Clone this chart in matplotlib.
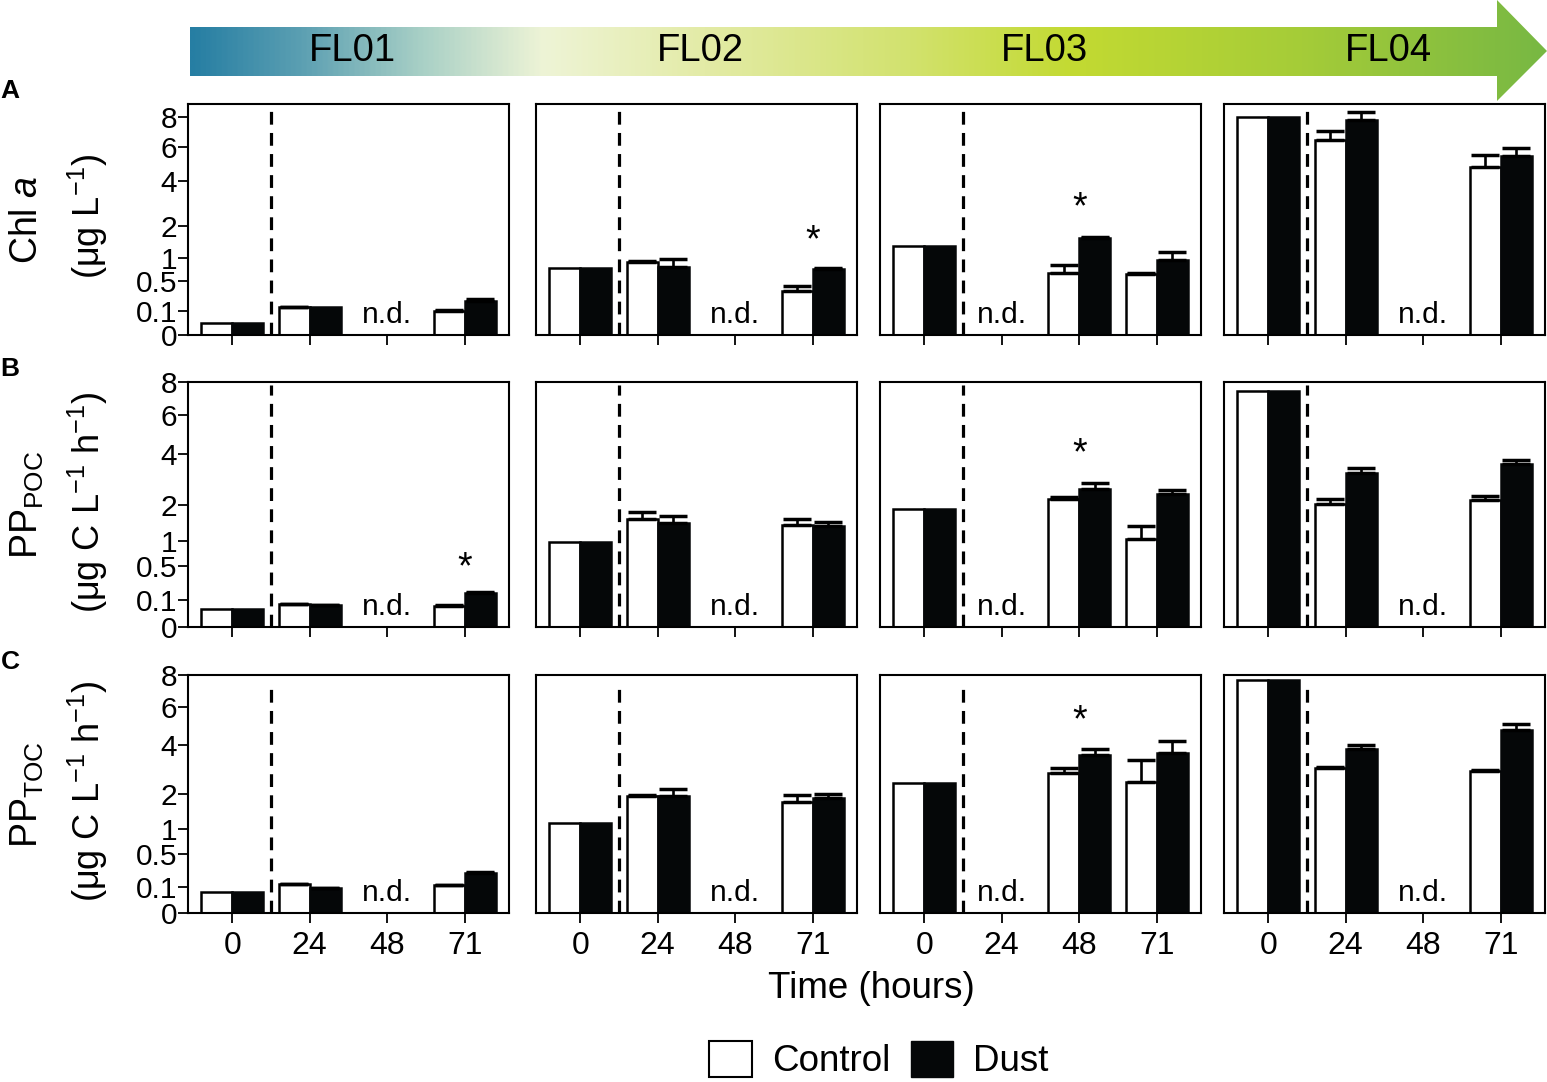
import numpy as np
import matplotlib
matplotlib.use('Agg')
import matplotlib.pyplot as plt
from matplotlib.patches import Polygon, Patch
from matplotlib.colors import LinearSegmentedColormap
import matplotlib.transforms as mtransforms

plt.rcParams['font.family'] = ['Liberation Sans', 'DejaVu Sans']
plt.rcParams['mathtext.fontset'] = 'custom'
plt.rcParams['mathtext.rm'] = 'Liberation Sans'
plt.rcParams['mathtext.it'] = 'Liberation Sans:italic'
plt.rcParams['mathtext.bf'] = 'Liberation Sans:bold'

nan = np.nan

# ---------------- data ----------------
times = ['0', '24', '48', '71']
flights = ['FL01', 'FL02', 'FL03', 'FL04']
yticks = [0, 0.1, 0.5, 1, 2, 4, 6, 8]
ytick_labels = ['0', '0.1', '0.5', '1', '2', '4', '6', '8']

# Chl a (ug L-1)
chl_ctrl = [[0.023, 0.13, nan, 0.097], [0.77, 0.89, nan, 0.33],
            [1.35, nan, 0.66, 0.63], [8.0, 6.43, nan, 4.75]]
chl_ctrl_err = [[0, 0.004, nan, 0.006], [0, 0.03, nan, 0.08],
                [0, nan, 0.16, 0.02], [0, 0.63, nan, 0.71]]
chl_dust = [[0.023, 0.13, nan, 0.19], [0.77, 0.775, nan, 0.74],
            [1.35, nan, 1.6, 0.95], [8.0, 7.82, nan, 5.44]]
chl_dust_err = [[0, 0, nan, 0.03], [0, 0.21, nan, 0.02],
                [0, nan, 0.02, 0.22], [0, 0.59, nan, 0.49]]

# PP POC (ug C L-1 h-1)
poc_ctrl = [[0.044, 0.07, nan, 0.062], [0.96, 1.56, nan, 1.39],
            [1.86, nan, 2.21, 1.03], [7.43, 2.03, nan, 2.16]]
poc_ctrl_err = [[0, 0.003, nan, 0.002], [0, 0.21, nan, 0.18],
                [0, nan, 0.04, 0.34], [0, 0.15, nan, 0.15]]
poc_dust = [[0.044, 0.066, nan, 0.159], [0.96, 1.46, nan, 1.37],
            [1.86, nan, 2.56, 2.36], [7.43, 3.19, nan, 3.57]]
poc_dust_err = [[0, 0.002, nan, 0.004], [0, 0.19, nan, 0.12],
                [0, nan, 0.23, 0.15], [0, 0.19, nan, 0.14]]

# PP TOC (ug C L-1 h-1)
toc_ctrl = [[0.062, 0.118, nan, 0.113], [1.14, 1.95, nan, 1.75],
            [2.38, nan, 2.76, 2.42], [7.66, 2.98, nan, 2.86]]
toc_ctrl_err = [[0, 0.004, nan, 0.002], [0, 0.03, nan, 0.21],
                [0, nan, 0.2, 0.87], [0, 0.05, nan, 0.04]]
toc_dust = [[0.062, 0.09, nan, 0.232], [1.14, 1.94, nan, 1.88],
            [2.38, nan, 3.53, 3.63], [7.66, 3.78, nan, 4.73]]
toc_dust_err = [[0, 0.002, nan, 0.004], [0, 0.22, nan, 0.13],
                [0, nan, 0.28, 0.56], [0, 0.21, nan, 0.31]]

# index of the time point that was not determined, per flight
nd_index = [2, 2, 1, 2]
# significance asterisks: (row, flight, time index, value at asterisk centre)
stars = [(0, 1, 3, 1.88), (0, 2, 2, 3.23), (1, 0, 3, 0.66),
         (1, 2, 2, 4.57), (2, 2, 2, 5.82)]

row_labels = ['Chl $\\mathit{a}$', 'PP$_{\\mathrm{POC}}$', 'PP$_{\\mathrm{TOC}}$']
row_units = ['(μg L$^{-1}$)', '(μg C L$^{-1}$ h$^{-1}$)', '(μg C L$^{-1}$ h$^{-1}$)']
panel_letters = ['A', 'B', 'C']

rows_ctrl = [chl_ctrl, poc_ctrl, toc_ctrl]
rows_ctrl_err = [chl_ctrl_err, poc_ctrl_err, toc_ctrl_err]
rows_dust = [chl_dust, poc_dust, toc_dust]
rows_dust_err = [chl_dust_err, poc_dust_err, toc_dust_err]

# ---------------- layout ----------------
W, H = 1547, 1082
fig = plt.figure(figsize=(W / 100, H / 100), dpi=100)
col_left = [188, 536, 880, 1224]
col_w = 321
row_top = [104.3, 382.3, 675.0]
row_bot = [335.0, 627.3, 913.3]
row_ymax = [9, 8, 8]
dash_top = [0.98, 0.99, 0.95]

fwd = lambda v: np.sqrt(np.clip(v, 0, None))
inv = lambda v: np.square(v)

bw = 0.4
xs = np.arange(4)
for r in range(3):
    for c in range(4):
        ax = fig.add_axes([col_left[c] / W, 1 - row_bot[r] / H,
                           col_w / W, (row_bot[r] - row_top[r]) / H])
        ax.set_yscale('function', functions=(fwd, inv))
        ax.set_xlim(-0.57, 3.57)
        ax.set_ylim(0, row_ymax[r])
        ctrl = np.array(rows_ctrl[r][c], float)
        cerr = np.array(rows_ctrl_err[r][c], float)
        dust = np.array(rows_dust[r][c], float)
        derr = np.array(rows_dust_err[r][c], float)
        m = ~np.isnan(ctrl)
        ax.bar(xs[m] - bw / 2, ctrl[m], width=bw, facecolor='white',
               edgecolor='black', linewidth=1.8, zorder=2)
        ax.bar(xs[m] + bw / 2, dust[m], width=bw, facecolor='#050708',
               edgecolor='#050708', linewidth=1.8, zorder=2)
        for xo, vals, errs in ((-bw / 2, ctrl, cerr), (bw / 2, dust, derr)):
            e = m & (np.nan_to_num(errs) > 0)
            if e.any():
                ax.errorbar(xs[e] + xo, vals[e], yerr=[np.zeros(e.sum()), errs[e]],
                            fmt='none', ecolor='black', elinewidth=1.9,
                            capsize=10, capthick=2.5, zorder=3)
        ax.axvline(0.5, ymin=0, ymax=dash_top[r], color='black', lw=2.3,
                   linestyle=(0, (4.0, 2.6)), zorder=1)
        tr = mtransforms.blended_transform_factory(ax.transData, ax.transAxes)
        ax.annotate('n.d.', xy=(nd_index[c], 0), xycoords=tr, xytext=(0, 8.5),
                    textcoords='offset points', ha='center', va='baseline',
                    fontsize=21.5)
        for (sr, sc, si, sv) in stars:
            if sr == r and sc == c:
                ax.annotate('*', xy=(si, sv), xytext=(0, -0.58 * 27),
                            textcoords='offset points', ha='center',
                            va='baseline', fontsize=27)
        for s in ax.spines.values():
            s.set_linewidth(1.5)
        ax.set_xticks(xs)
        ax.tick_params(axis='x', direction='out', length=7, width=1.3,
                       labelsize=23, pad=6, labelbottom=(r == 2))
        ax.set_xticklabels(times)
        if c == 0:
            ax.set_yticks(yticks)
            ax.set_yticklabels(ytick_labels)
            ax.tick_params(axis='y', direction='out', length=7, width=1.3,
                           labelsize=21.5, pad=1)
        else:
            ax.set_yticks(yticks)
            ax.tick_params(axis='y', left=False, labelleft=False)
        ax.minorticks_off()

# ---------------- overlay (arrow, labels) ----------------
ax0 = fig.add_axes([0, 0, 1, 1], zorder=-1)
ax0.set_xlim(0, W)
ax0.set_ylim(H, 0)
ax0.axis('off')

grad = LinearSegmentedColormap.from_list('flgrad', [
    (0.00, '#267ea3'), (0.08, '#5b9fb2'), (0.17, '#a9d0c6'),
    (0.26, '#eef4d6'), (0.38, '#e3eba6'), (0.53, '#d2e26e'),
    (0.65, '#c3da32'), (0.82, '#a5cc38'), (1.00, '#78b843')])
img = ax0.imshow(np.linspace(0, 1, 512)[None, :], cmap=grad, aspect='auto',
                 extent=(190, 1547, 101, 0), zorder=0)
arrow = Polygon([(190, 27), (1497, 27), (1497, 0), (1547, 51), (1497, 101),
                 (1497, 76), (190, 76)], closed=True, facecolor='none',
                edgecolor='none', transform=ax0.transData)
ax0.add_patch(arrow)
img.set_clip_path(arrow)
ax0.set_xlim(0, W)
ax0.set_ylim(H, 0)

for c, fl in enumerate(flights):
    ax0.text(col_left[c] + 164, 51, fl, ha='center', va='center', fontsize=27.5)

for r in range(3):
    yc = (row_top[r] + row_bot[r]) / 2
    ax0.text(27, yc, row_labels[r], rotation=90, ha='center', va='center',
             fontsize=27)
    ax0.text(88, yc - 3, row_units[r], rotation=90, ha='center', va='center',
             fontsize=26)
    ax0.text(10, row_top[r] - 13, panel_letters[r], ha='center', va='center',
             fontsize=19, fontweight='bold')

ax0.text(871, 988, 'Time (hours)', ha='center', va='center', fontsize=26.5)

handles = [Patch(facecolor='white', edgecolor='black', linewidth=1.5, label='Control'),
           Patch(facecolor='#050708', edgecolor='#050708', label='Dust')]
fig.legend(handles=handles, loc='center', bbox_to_anchor=(879 / W, 1 - 1060 / H),
           ncol=2, frameon=False, fontsize=26.5, handlelength=1.15,
           handleheight=1.15, handletextpad=0.55, columnspacing=0.55,
           borderaxespad=0)

fig.savefig('out.png', dpi=100)
